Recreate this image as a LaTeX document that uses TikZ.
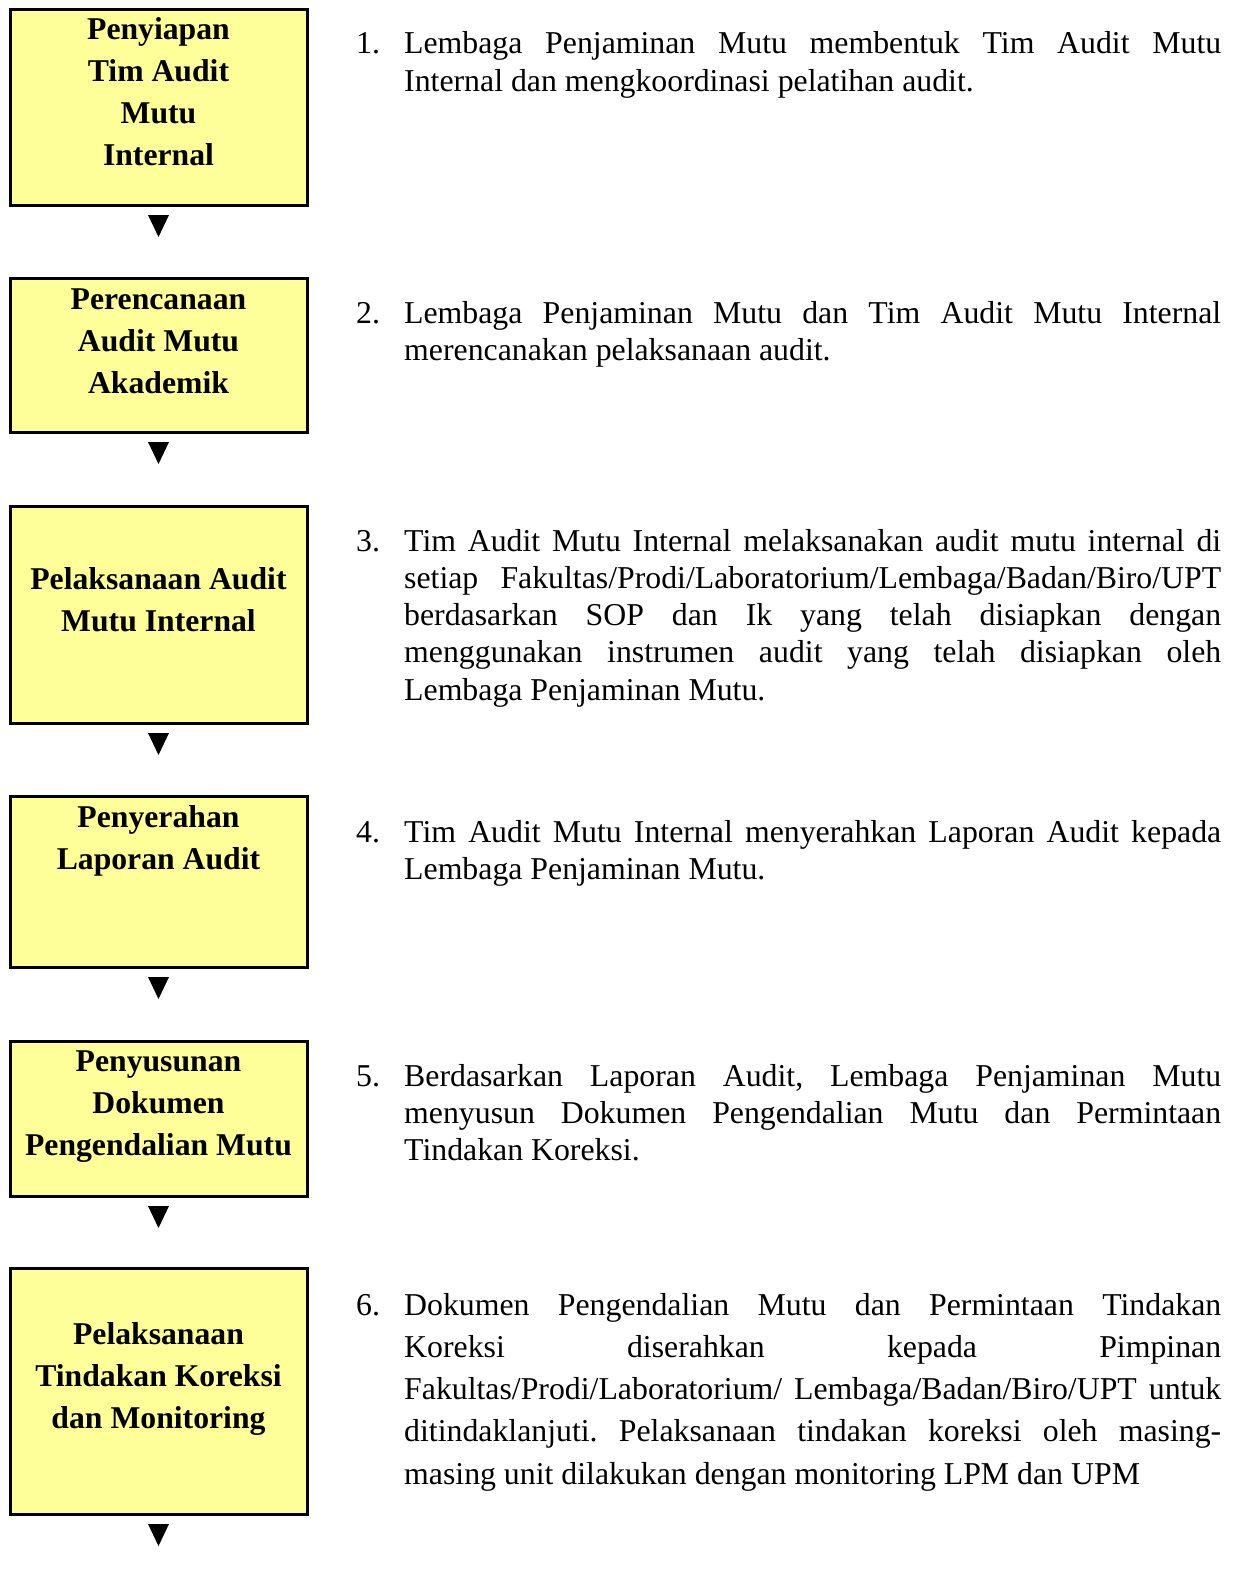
\documentclass[tikz,border=0pt]{standalone}
\usepackage{fontspec}
\setmainfont{Liberation Serif}
\usetikzlibrary{calc}
\frenchspacing

\definecolor{boxyellow}{RGB}{255,255,153}

% width of the justified description column
\newlength{\itemw}\setlength{\itemw}{817pt}
\newlength{\jlineht}
% one justified line: stretch the spaces, or squeeze the line if it is too long
\newcommand{\jline}[1]{%
  \setbox0\hbox{#1}%
  \ifdim\wd0>\itemw
    \setlength{\jlineht}{\ht0}%
    \resizebox{\itemw}{\jlineht}{\copy0}%
  \else
    \makebox[\itemw][s]{#1}%
  \fi}
\newcommand{\numbox}[1]{\makebox[48pt][l]{#1}}
\newcommand{\indentline}{\hspace*{48pt}}

\tikzset{
  stepbox/.style={draw=black, line width=3pt, fill=boxyellow, inner sep=0pt,
                  outer sep=0pt, minimum width=297pt, anchor=north west},
  boxtext/.style={inner sep=0pt, anchor=base,
                  font=\bfseries\fontsize{31.7pt}{42pt}\selectfont},
  itemtext/.style={inner sep=0pt, anchor=base west,
                   font=\fontsize{31.8pt}{37.3pt}\selectfont},
  pointer/.style={fill=black}
}

\newcommand{\boxlines}[1]{\parbox[t]{297pt}{\centering #1}}
\newcommand{\itemlines}[1]{\parbox[t]{865pt}{\raggedright #1}}

\begin{document}
\begin{tikzpicture}[x=1pt, y=-1pt]
  \useasboundingbox (0,0) rectangle (1233,1579);

  % ---- step boxes ----
  \node[stepbox, minimum height=195.5pt] (b1) at (10,9.5) {};
  \node[stepbox, minimum height=153.5pt] (b2) at (10,278.5) {};
  \node[stepbox, minimum height=217pt]   (b3) at (10,506) {};
  \node[stepbox, minimum height=171pt]   (b4) at (10,796) {};
  \node[stepbox, minimum height=155pt]   (b5) at (10,1041) {};
  \node[stepbox, minimum height=246pt]   (b6) at (10,1268) {};

  % ---- box titles ----
  \node[boxtext] (t1) at (158.5,40)   {\boxlines{Penyiapan\\Tim Audit\\Mutu\\Internal}};
  \node[boxtext] (t2) at (158.5,309)  {\boxlines{Perencanaan\\Audit Mutu\\Akademik}};
  \node[boxtext] (t3) at (158.5,589)  {\boxlines{Pelaksanaan Audit\\Mutu Internal}};
  \node[boxtext] (t4) at (158.5,827)  {\boxlines{Penyerahan\\Laporan Audit}};
  \node[boxtext] (t5) at (158.5,1071) {\boxlines{Penyusunan\\Dokumen\\Pengendalian Mutu}};
  \node[boxtext] (t6) at (158.5,1344) {\boxlines{Pelaksanaan\\Tindakan Koreksi\\dan Monitoring}};

  % ---- downward pointers under each box ----
  \foreach \b in {b1,b2,b3,b4,b5,b6}{
    \fill[pointer] ($(\b.south)+(-10.5,10)$) -- ++(21,0) -- ++(-10.5,22) -- cycle;
  }

  % ---- step descriptions ----
  \node[itemtext] (p1) at (356,54) {\itemlines{%
    \numbox{1.}\jline{Lembaga Penjaminan Mutu membentuk Tim Audit Mutu}\\
    \indentline Internal dan mengkoordinasi pelatihan audit.}};

  \node[itemtext] (p2) at (356,323) {\itemlines{%
    \numbox{2.}\jline{Lembaga Penjaminan Mutu dan Tim Audit Mutu Internal}\\
    \indentline merencanakan pelaksanaan audit.}};

  \node[itemtext] (p3) at (356,551) {\itemlines{%
    \numbox{3.}\jline{Tim Audit Mutu Internal melaksanakan audit mutu internal di}\\
    \indentline\jline{setiap Fakultas/Prodi/Laboratorium/Lembaga/Badan/Biro/UPT}\\
    \indentline\jline{berdasarkan SOP dan Ik yang telah disiapkan dengan}\\
    \indentline\jline{menggunakan instrumen audit yang telah disiapkan oleh}\\
    \indentline Lembaga Penjaminan Mutu.}};

  \node[itemtext] (p4) at (356,842) {\itemlines{%
    \numbox{4.}\jline{Tim Audit Mutu Internal menyerahkan Laporan Audit kepada}\\
    \indentline Lembaga Penjaminan Mutu.}};

  \node[itemtext] (p5) at (356,1086) {\itemlines{%
    \numbox{5.}\jline{Berdasarkan Laporan Audit, Lembaga Penjaminan Mutu}\\
    \indentline\jline{menyusun Dokumen Pengendalian Mutu dan Permintaan}\\
    \indentline Tindakan Koreksi.}};

  \node[itemtext, font=\fontsize{31.8pt}{42.3pt}\selectfont] (p6) at (356,1315) {\itemlines{%
    \numbox{6.}\jline{Dokumen Pengendalian Mutu dan Permintaan Tindakan}\\
    \indentline\jline{Koreksi diserahkan kepada Pimpinan}\\
    \indentline\jline{Fakultas/Prodi/Laboratorium/ Lembaga/Badan/Biro/UPT untuk}\\
    \indentline\jline{ditindaklanjuti. Pelaksanaan tindakan koreksi oleh masing-}\\
    \indentline masing unit dilakukan dengan monitoring LPM dan UPM}};
\end{tikzpicture}
\end{document}
